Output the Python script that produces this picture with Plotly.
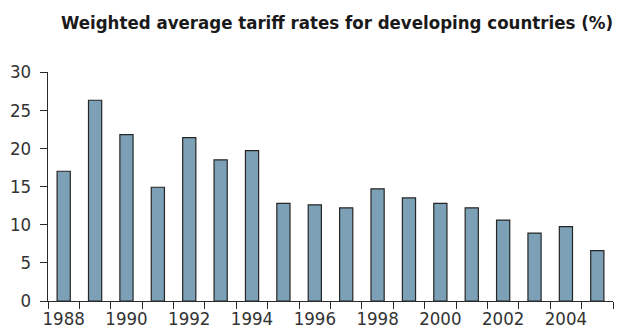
import plotly.graph_objects as go

years = list(range(1988, 2006))
tariffs = [17.0, 26.3, 21.8, 14.9, 21.4, 18.5, 19.7, 12.8, 12.6, 12.2,
           14.7, 13.5, 12.8, 12.2, 10.6, 8.9, 9.75, 6.6]
label_years = [y for y in years if y % 2 == 0]
y_ticks = [0, 5, 10, 15, 20, 25, 30]

FONT = "DejaVu Sans Condensed, Liberation Sans Narrow, sans-serif"
AX = "#2a2a2a"

fig = go.Figure(go.Bar(
    x=years, y=tariffs, width=0.42,
    marker=dict(color="#7ca0b6", line=dict(color="#262626", width=1.2)),
))

fig.update_layout(
    width=624, height=329,
    margin=dict(l=48, r=11, t=72, b=28),
    paper_bgcolor="white", plot_bgcolor="white",
    showlegend=False,
    title=dict(
        text="<b>Weighted average tariff rates for developing countries (%)</b>",
        font=dict(family=FONT, size=18.5, color="#1a1a1a"),
        x=61/624, xanchor="left", xref="container",
        y=1-23/329, yanchor="middle", yref="container",
    ),
    font=dict(family=FONT, size=18.5, color="#333333"),
)

fig.update_xaxes(
    range=[years[0]-0.5, years[-1]+0.5],
    tickmode="array", tickvals=label_years, ticktext=[str(y) for y in label_years],
    ticks="outside", ticklen=1, tickcolor="rgba(0,0,0,0)",
    minor=dict(tick0=years[0]-0.5, dtick=1, ticks="outside", ticklen=7,
               tickcolor=AX, tickwidth=1.2, showgrid=False),
    showline=True, linecolor=AX, linewidth=1.2,
    showgrid=False, zeroline=False, automargin=False,
    tickfont=dict(family=FONT, size=18.5, color="#333333"),
)
fig.update_yaxes(
    range=[0, 30], tickmode="array", tickvals=y_ticks,
    ticks="outside", ticklen=7, tickcolor=AX, tickwidth=1.2,
    showline=True, linecolor=AX, linewidth=1.2,
    showgrid=False, zeroline=False, automargin=False,
    ticklabelstandoff=5,
    tickfont=dict(family=FONT, size=18.5, color="#333333"),
)

fig.write_html("out.html")
